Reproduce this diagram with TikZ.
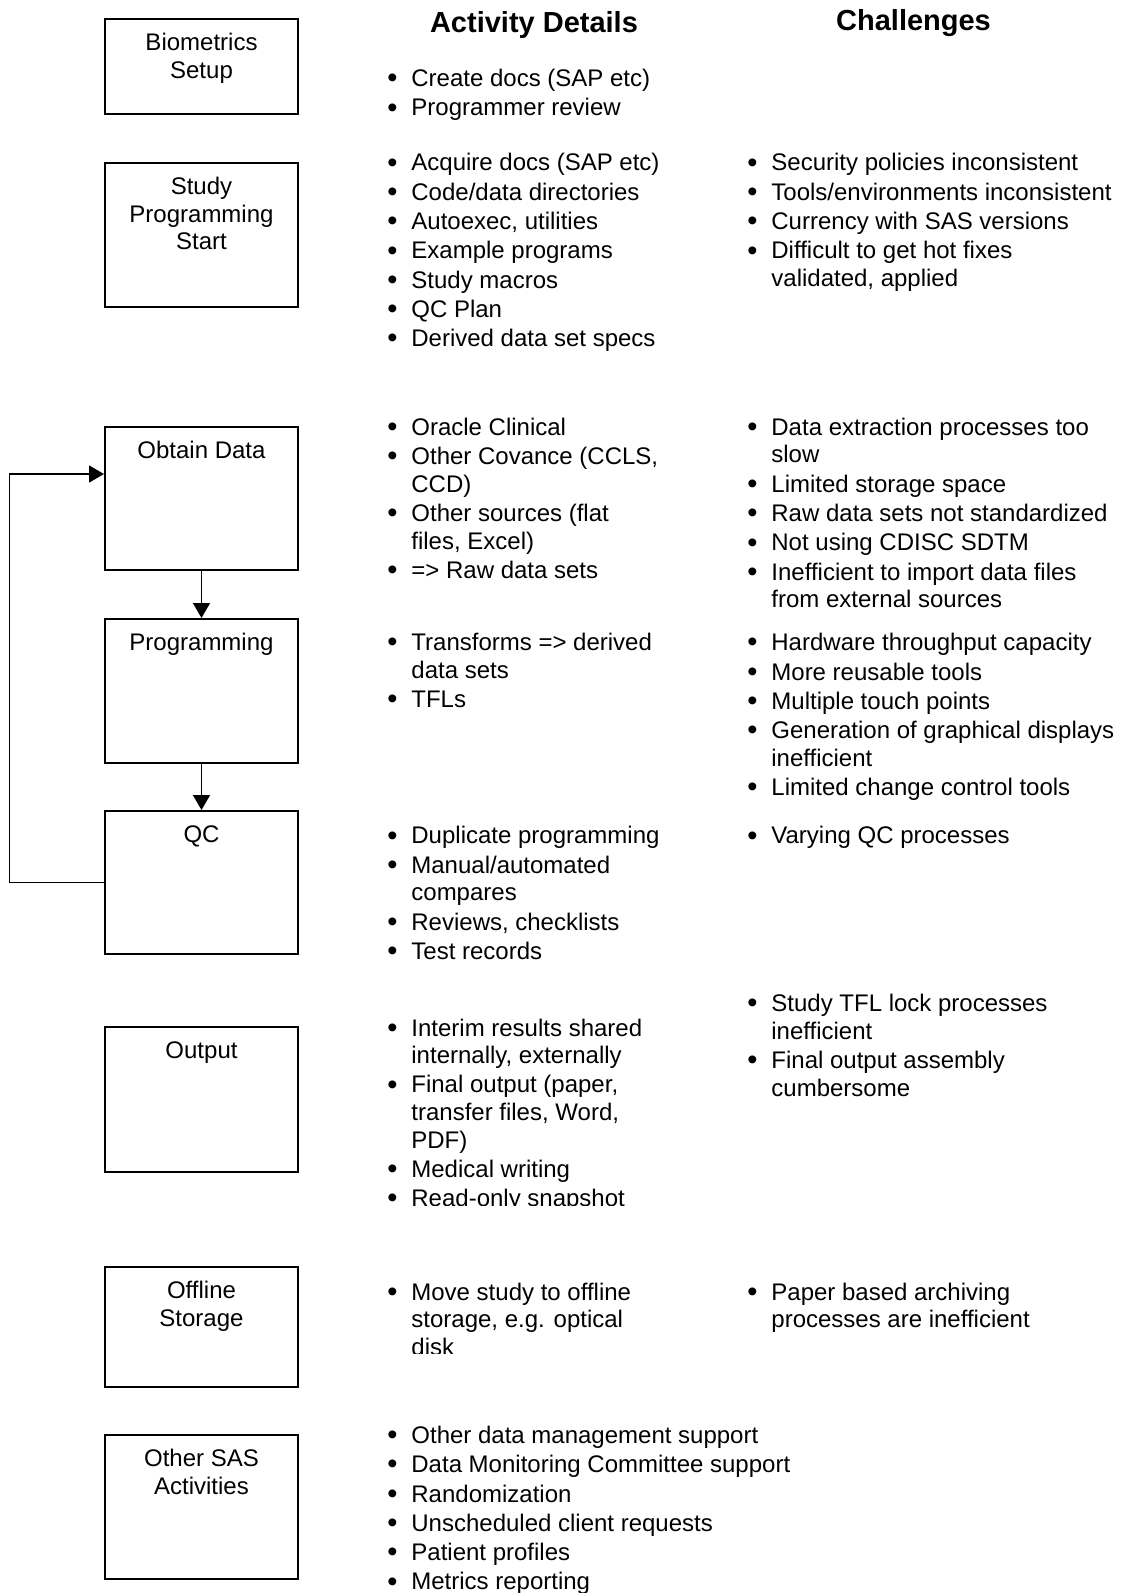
\documentclass[tikz,border=0pt]{standalone}
\usepackage{fontspec}
\setmainfont{Liberation Sans}
\usetikzlibrary{arrows.meta}
\newcommand{\bul}{\makebox[12pt][l]{\raisebox{-0.6pt}{\fontsize{14.5}{13.8}\selectfont\textbullet}}}
\newcommand{\cnt}{\hspace*{12pt}}
\newcommand{\isep}{\\[0.85pt]}
\newcommand{\blist}[1]{\begin{tabular}[t]{@{}l@{}}#1\end{tabular}}
\newcommand{\blabel}[1]{\begin{tabular}[t]{@{}c@{}}#1\end{tabular}}
\begin{document}
\begin{tikzpicture}[x=0.5pt,y=-0.5pt,
    every node/.style={font=\fontsize{12}{13.8}\selectfont, inner sep=0pt},
    stage/.style={draw, line width=1pt, minimum width=96.5pt, anchor=north},
    stagetext/.style={anchor=base},
    items/.style={anchor=base west},
    head/.style={anchor=base, font=\fontsize{14.5}{17}\selectfont\bfseries},
    flow/.style={line width=0.8pt, -{Triangle[length=7.5pt,width=8.5pt]}}]
    \useasboundingbox (0,0) rectangle (1120,1593);
    % headings
    \node[head] (acthead) at (534,33) {Activity Details};
    \node[head] (chalhead) at (913.5,31) {Challenges};
    % stages
    \node[stage, minimum height=47.5pt] (setup) at (201.5,18) {};
    \node[stage, minimum height=72pt] (start) at (201.5,162) {};
    \node[stage, minimum height=71.5pt] (obtain) at (201.5,426) {};
    \node[stage, minimum height=72pt] (prog) at (201.5,618) {};
    \node[stage, minimum height=71.5pt] (qc) at (201.5,810) {};
    \node[stage, minimum height=72.5pt] (output) at (201.5,1026) {};
    \node[stage, minimum height=60pt] (offline) at (201.5,1266) {};
    \node[stage, minimum height=72pt] (other) at (201.5,1434) {};
    \node[stagetext] (setuplbl) at ([yshift=-16.25pt]setup.north) {\blabel{Biometrics\\Setup}};
    \node[stagetext] (startlbl) at ([yshift=-16.25pt]start.north) {\blabel{Study\\Programming\\Start}};
    \node[stagetext] (obtainlbl) at ([yshift=-16.25pt]obtain.north) {\blabel{Obtain Data}};
    \node[stagetext] (proglbl) at ([yshift=-16.25pt]prog.north) {\blabel{Programming}};
    \node[stagetext] (qclbl) at ([yshift=-16.25pt]qc.north) {\blabel{QC}};
    \node[stagetext] (outputlbl) at ([yshift=-16.25pt]output.north) {\blabel{Output}};
    \node[stagetext] (offlinelbl) at ([yshift=-16.25pt]offline.north) {\blabel{Offline\\Storage}};
    \node[stagetext] (otherlbl) at ([yshift=-16.25pt]other.north) {\blabel{Other SAS\\Activities}};
    % connectors
    \draw[flow] (obtain) -- (prog);
    \draw[flow] (prog) -- (qc);
    \coordinate (back) at (9.5,474);
    \draw[flow] (qc.west) -| (back) -- (back -| obtain.west);
    % activity details
    \node[items] (setupact) at (387,86.7) {\blist{\bul Create docs (SAP etc)\isep
        \bul Programmer review}};
    \node[items] (startact) at (387,171) {\blist{\bul Acquire docs (SAP etc)\isep
        \bul Code/data directories\isep
        \bul Autoexec, utilities\isep
        \bul Example programs\isep
        \bul Study macros\isep
        \bul QC Plan\isep
        \bul Derived data set specs}};
    \node[items] (obtainact) at (387,435.3) {\blist{\bul Oracle Clinical\isep
        \bul Other Covance (CCLS,\\ \cnt CCD)\isep
        \bul Other sources (flat\\ \cnt files, Excel)\isep
        \bul => Raw data sets}};
    \node[items] (progact) at (387,650.7) {\blist{\bul Transforms => derived\\ \cnt data sets\isep
        \bul TFLs}};
    \node[items] (qcact) at (387,843.8) {\blist{\bul Duplicate programming\isep
        \bul Manual/automated\\ \cnt compares\isep
        \bul Reviews, checklists\isep
        \bul Test records}};
    \begin{scope}
        \clip (370,990) rectangle (700,1205);
        \node[items] (outputact) at (387,1036) {\blist{\bul Interim results shared\\ \cnt internally, externally\isep
            \bul Final output (paper,\\ \cnt transfer files, Word,\\ \cnt PDF)\isep
            \bul Medical writing\isep
            \bul Read-only snapshot}};
    \end{scope}
    \begin{scope}
        \clip (370,1270) rectangle (700,1353);
        \node[items] (offlineact) at (387,1300) {\blist{\bul Move study to offline\\ \cnt storage, e.g. optical\\ \cnt disk}};
    \end{scope}
    \node[items] (otheract) at (387,1443.4) {\blist{\bul Other data management support\isep
        \bul Data Monitoring Committee support\isep
        \bul Randomization\isep
        \bul Unscheduled client requests\isep
        \bul Patient profiles\isep
        \bul Metrics reporting}};
    % challenges
    \node[items] (startchal) at (747,171) {\blist{\bul Security policies inconsistent\isep
        \bul Tools/environments inconsistent\isep
        \bul Currency with SAS versions\isep
        \bul Difficult to get hot fixes\\ \cnt validated, applied}};
    \node[items] (obtainchal) at (747,435.3) {\blist{\bul Data extraction processes too\\ \cnt slow\isep
        \bul Limited storage space\isep
        \bul Raw data sets not standardized\isep
        \bul Not using CDISC SDTM\isep
        \bul Inefficient to import data files\\ \cnt from external sources}};
    \node[items] (progchal) at (747,650.7) {\blist{\bul Hardware throughput capacity\isep
        \bul More reusable tools\isep
        \bul Multiple touch points\isep
        \bul Generation of graphical displays\\ \cnt inefficient\isep
        \bul Limited change control tools}};
    \node[items] (qcchal) at (747,843.8) {\blist{\bul Varying QC processes}};
    \node[items] (outputchal) at (747,1011.5) {\blist{\bul Study TFL lock processes\\ \cnt inefficient\isep
        \bul Final output assembly\\ \cnt cumbersome}};
    \node[items] (offlinechal) at (747,1300) {\blist{\bul Paper based archiving\\ \cnt processes are inefficient}};
\end{tikzpicture}
\end{document}
